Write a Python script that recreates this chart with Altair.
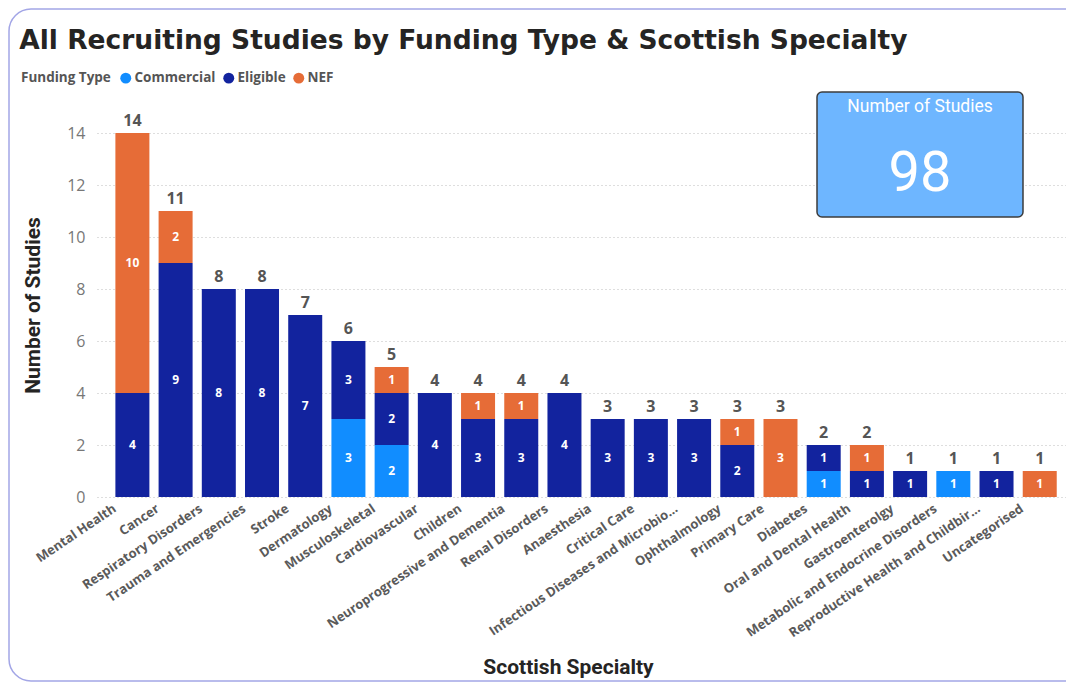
import altair as alt
import pandas as pd

specialties = [
    "Mental Health", "Cancer", "Respiratory Disorders", "Trauma and Emergencies",
    "Stroke", "Dermatology", "Musculoskeletal", "Cardiovascular", "Children",
    "Neuroprogressive and Dementia", "Renal Disorders", "Anaesthesia",
    "Critical Care", "Infectious Diseases and Microbio...", "Ophthalmology",
    "Primary Care", "Diabetes", "Oral and Dental Health", "Gastroenterolgy",
    "Metabolic and Endocrine Disorders", "Reproductive Health and Childbir...",
    "Uncategorised",
]
commercial = [0, 0, 0, 0, 0, 3, 2, 0, 0, 0, 0, 0, 0, 0, 0, 0, 1, 0, 0, 1, 0, 0]
eligible = [4, 9, 8, 8, 7, 3, 2, 4, 3, 3, 4, 3, 3, 3, 2, 0, 1, 1, 1, 0, 1, 0]
nef = [10, 2, 0, 0, 0, 0, 1, 0, 1, 1, 0, 0, 0, 0, 1, 3, 0, 1, 0, 0, 0, 1]

funding_types = ["Commercial", "Eligible", "NEF"]
funding_colors = ["#118DFF", "#12239E", "#E66C37"]
y_ticks = [0, 2, 4, 6, 8, 10, 12, 14]

rows = []
for i, s in enumerate(specialties):
    for j, (ft, vals) in enumerate(zip(funding_types, [commercial, eligible, nef])):
        if vals[i] > 0:
            rows.append({"specialty": s, "funding": ft, "studies": vals[i], "order": j})
df = pd.DataFrame(rows)

LABEL_FONT = "Open Sans"
HEAD_FONT = "Roboto"

W, H = 969, 364

x_enc = alt.X(
    "specialty:N",
    sort=specialties,
    scale=alt.Scale(paddingInner=0.213, paddingOuter=0.32, align=0.665),
    axis=alt.Axis(
        title="Scottish Specialty",
        labelAngle=-34,
        labelAlign="right",
        labelBaseline="top",
        labelOffset=-21,
        labelPadding=5,
        labelFont=LABEL_FONT,
        labelFontSize=13,
        labelFontWeight="bold",
        labelColor="#5A5A5A",
        labelLimit=400,
        labelOverlap=False,
        ticks=False,
        domain=False,
        grid=False,
        titleFont=HEAD_FONT,
        titleFontSize=21,
        titleFontWeight="bold",
        titleColor="#252423",
        titleX=471,
        titleY=170,
        titleBaseline="middle",
    ),
)

base = alt.Chart(df)

bars = base.mark_bar().encode(
    x=x_enc,
    y=alt.Y(
        "studies:Q",
        stack="zero",
        scale=alt.Scale(domain=[0, 14], nice=False),
        axis=alt.Axis(
            title="Number of Studies",
            values=y_ticks,
            labelFont=LABEL_FONT,
            labelFontSize=16,
            labelColor="#777777",
            labelPadding=12,
            ticks=False,
            domain=False,
            grid=True,
            gridDash=[1, 3],
            gridColor="#BDBDBD",
            gridWidth=1,
            titleFont=HEAD_FONT,
            titleFontSize=21,
            titleFontWeight="bold",
            titleColor="#252423",
            titleX=-64,
            titleY=172,
            titleBaseline="middle",
        ),
    ),
    color=alt.Color(
        "funding:N",
        scale=alt.Scale(domain=funding_types, range=funding_colors),
        legend=alt.Legend(
            title="Funding Type",
            orient="none",
            legendX=-76,
            legendY=-62,
            direction="horizontal",
            titleOrient="left",
            titleFont=LABEL_FONT,
            titleFontSize=13.5,
            titleFontWeight="bold",
            titleColor="#555555",
            titlePadding=8,
            labelFont=LABEL_FONT,
            labelFontSize=13.5,
            labelFontWeight="bold",
            labelColor="#555555",
            labelOffset=2,
            symbolType="circle",
            symbolSize=120,
            symbolStrokeWidth=0,
            columnPadding=6,
        ),
    ),
    order=alt.Order("order:Q", sort="ascending"),
)

seg_labels = base.transform_stack(
    stack="studies",
    groupby=["specialty"],
    as_=["y0", "y1"],
    sort=[alt.SortField("order", order="ascending")],
).transform_calculate(
    mid="(datum.y0 + datum.y1) / 2"
).mark_text(
    color="white", font=LABEL_FONT, fontSize=12, fontWeight="bold", baseline="middle"
).encode(
    x=alt.X("specialty:N", sort=specialties),
    y=alt.Y("mid:Q"),
    text=alt.Text("studies:Q"),
)

totals = base.transform_aggregate(
    total="sum(studies)", groupby=["specialty"]
).mark_text(
    color="#555555", font=LABEL_FONT, fontSize=16, fontWeight="bold", baseline="bottom", dy=-4
).encode(
    x=alt.X("specialty:N", sort=specialties),
    y=alt.Y("total:Q"),
    text=alt.Text("total:Q"),
)

one = base.transform_aggregate(total="sum(studies)")

border = one.mark_rect(
    fill=None, stroke="#A3A6E6", strokeWidth=1.5, cornerRadius=22
).encode(
    x=alt.value(-88), x2=alt.value(1040), y=alt.value(-124), y2=alt.value(548)
)

card = one.mark_rect(
    fill="#6EB6FF", stroke="#3C3C3C", strokeWidth=1.5, cornerRadius=5
).encode(
    x=alt.value(720), x2=alt.value(926), y=alt.value(-41), y2=alt.value(84)
)

card_title = one.transform_calculate(label="'Number of Studies'").mark_text(
    color="white", font=HEAD_FONT, fontSize=17.5, align="center", baseline="middle"
).encode(x=alt.value(823), y=alt.value(-26), text="label:N")

card_value = one.mark_text(
    color="white", font=HEAD_FONT, fontSize=56, align="center", baseline="middle"
).encode(x=alt.value(823), y=alt.value(41), text="total:Q")

chart = alt.layer(
    border, bars, seg_labels, totals, card, card_title, card_value
).properties(
    width=W,
    height=H,
    title=alt.Title(
        "All Recruiting Studies by Funding Type & Scottish Specialty",
        anchor="start",
        font="DejaVu Sans",
        fontSize=26.5,
        fontWeight="bold",
        color="#252423",
        dx=11,
        offset=0,
        dy=46,
    ),
    autosize=alt.AutoSizeParams(type="none"),
    padding={"left": 89, "top": 125, "right": 0, "bottom": 186},
    background="white",
).configure_view(stroke=None)

chart.save("out.html", embed_options={"renderer": "svg", "actions": False})
